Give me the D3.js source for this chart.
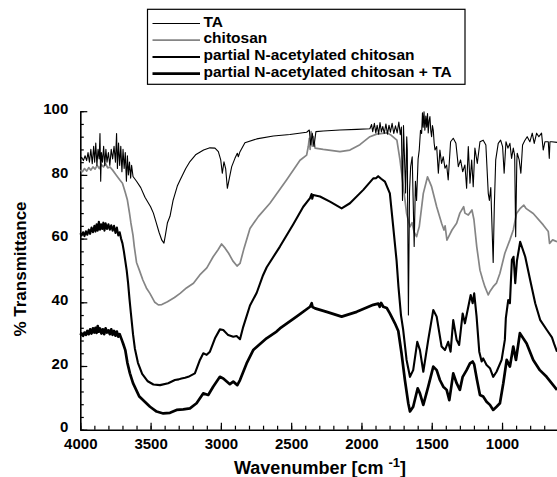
<!DOCTYPE html>
<html>
<head>
<meta charset="utf-8">
<script src="https://cdn.jsdelivr.net/npm/d3@7"></script>
<style>
  body { margin: 0; background: #fff; }
  svg { display: block; font-family: Arial, "Liberation Sans", sans-serif; }
</style>
</head>
<body>
<svg width="557" height="477"></svg>
<script>
// labels + ticks
const seriesNames = ['TA', 'chitosan', 'partial N-acetylated chitosan', 'partial N-acetylated chitosan + TA']
const xTicks = [4000, 3500, 3000, 2500, 2000, 1500, 1000]
const yTicks = [0, 20, 40, 60, 80, 100]

// spectra, [wavenumber, %T]
const taData = [
  [4000,85],[3990,85.5],[3978,84.5],[3966,86],[3955,84.5],[3945,87],[3935,84],[3925,88],[3915,83.5],[3905,89],
  [3898,84],[3890,90],[3882,83],[3874,88],[3866,85],[3860,93],[3855,78],[3850,87],[3842,84],[3834,89],
  [3826,83],[3818,88],[3810,84],[3800,87],[3790,83],[3780,88],[3770,85],[3760,89],[3750,84],[3742,93],
  [3736,82],[3728,90],[3720,83],[3712,89],[3704,81],[3696,88],[3688,82],[3680,87],[3672,78],[3665,86],
  [3658,80],[3650,84],[3642,79],[3635,83],[3625,79.5],[3600,78],[3570,76],[3540,73],[3520,71.5],[3500,70],
  [3480,68],[3460,65],[3440,62],[3420,59.5],[3405,58.6],[3395,61],[3380,65],[3362,67],[3340,72],[3310,76.5],
  [3290,78.4],[3250,82],[3220,84.2],[3180,86.3],[3123,87.8],[3078,88.5],[3042,88.4],[3018,87.3],[3001,84.7],[2990,80.5],
  [2978,84.1],[2966,82],[2954,75.8],[2940,78.9],[2923,82.6],[2900,85.2],[2883,86.8],[2876,85.7],[2864,87.3],[2829,90.1],
  [2745,91.3],[2627,92.2],[2509,92.7],[2390,93.4],[2371,94.1],[2361,89.4],[2350,93.1],[2338,88.9],[2324,93.6],[2272,93.8],
  [2153,94.1],[2034,94.3],[1940,94.5],[1928,95.8],[1920,93.6],[1908,96.2],[1898,93.2],[1888,95.6],[1878,92.8],[1868,96.4],
  [1858,93.5],[1848,95.2],[1838,93],[1826,96],[1815,92.8],[1804,95.6],[1794,93.4],[1782,96.2],[1770,93],[1758,95.4],
  [1746,93.2],[1734,96.6],[1724,92.6],[1716,95],[1708,72],[1701,95.5],[1686,74.3],[1678,92],[1674,87.8],[1666,36],
  [1658,75],[1650,82.6],[1639,85.7],[1625,57.5],[1616,78],[1608,72],[1597,85],[1589,87.8],[1580,94],[1572,93],
  [1566,99.5],[1561,95],[1555,99.8],[1549,94],[1542,98.5],[1536,95],[1530,99.3],[1525,93.2],[1519,97],[1513,98.3],
  [1507,94],[1501,92],[1495,95.5],[1489,94],[1483,90],[1477,87.8],[1465,88.9],[1453,80.5],[1442,87.8],[1430,83.6],
  [1418,85.7],[1406,82.1],[1394,83.1],[1383,78.4],[1366,90.4],[1347,91.5],[1328,89.9],[1311,82.6],[1295,84.7],[1280,81],
  [1264,83.1],[1252,75.8],[1240,88.9],[1228,77.4],[1216,84.7],[1205,76.3],[1193,88.4],[1176,83.6],[1157,90.4],[1134,90.9],
  [1115,89.4],[1098,74.2],[1090,72],[1080,76],[1070,62],[1063,52.5],[1055,70],[1045,84.7],[1027,89.9],[1010,90.9],
  [996,88.9],[985,80.5],[972,90.4],[958,88.4],[944,89.9],[932,85.2],[920,88.4],[910,86],[903,60.6],[895,84],
  [892,86.8],[878,84.7],[866,80.5],[854,89.4],[837,90.9],[821,92],[802,90.4],[785,93.1],[771,89.9],[754,93.1],
  [738,92],[719,93.1],[707,87.8],[695,90.4],[671,90.4],[664,85.2],[659,90.4],[647,90.4],[609,90.2]
]

const chitosanData = [
  [4000,81.5],[3985,81],[3970,82],[3955,81.2],[3940,82.3],[3925,81.5],[3910,82.5],[3895,81.8],[3880,83],[3865,82],
  [3850,83.2],[3835,82.5],[3820,83.5],[3805,82.2],[3789,82.5],[3770,81.5],[3745,80],[3720,78.5],[3700,77.4],[3680,74.5],
  [3665,72.1],[3650,68],[3640,64.9],[3625,61],[3616,57.5],[3600,52.5],[3580,50.1],[3555,47],[3530,44.5],[3505,42.8],
  [3470,40],[3445,39.2],[3420,39.3],[3380,40.2],[3330,41.5],[3290,42.8],[3245,44.5],[3195,46],[3150,48.6],[3100,50.8],
  [3055,54.3],[3020,56.5],[2995,58.3],[2970,57],[2945,55.4],[2915,53],[2885,51.4],[2864,52.2],[2835,57],[2793,63.2],
  [2734,66.9],[2651,71.1],[2533,78.4],[2437,84.6],[2390,86.2],[2378,89],[2371,91.5],[2365,88],[2358,93.6],[2350,89],
  [2342,92],[2330,88.4],[2272,88],[2153,87.3],[2082,87.8],[2011,89.5],[1940,92],[1892,92.8],[1821,93.2],[1790,92.5],
  [1748,90.9],[1726,84.7],[1702,76.3],[1679,67.9],[1655,63.7],[1640,65],[1625,62],[1608,60.6],[1597,62.5],[1589,63.7],
  [1560,74.2],[1530,79.4],[1501,76.3],[1465,70],[1430,64.8],[1413,62.7],[1405,64],[1392,59.5],[1375,61],[1356,62.7],
  [1323,64.8],[1300,68],[1273,70],[1264,68],[1240,67.4],[1214,69],[1200,66],[1180,57.5],[1170,54.3],[1157,50.1],
  [1137,47],[1122,44.9],[1098,42.3],[1085,43.5],[1063,44.9],[1040,46],[1015,49.1],[980,55.4],[944,59.6],[920,62.7],
  [897,67.9],[870,69.5],[845,70.5],[830,69.5],[778,67.9],[707,64.3],[671,62.2],[662,58.5],[640,59.6],[609,59]
]

const pnacData = [
  [4000,61.7],[3990,61],[3980,62],[3970,60.8],[3960,62.3],[3950,61.2],[3940,62.8],[3930,61.5],[3920,63.5],[3910,62],
  [3900,64],[3892,62.2],[3884,64.5],[3876,62.5],[3868,65.3],[3860,62.8],[3852,64.5],[3844,63],[3836,65],[3828,62.5],
  [3820,64.8],[3810,63],[3800,64.5],[3790,62.8],[3780,64.2],[3770,62.5],[3760,64],[3750,61.8],[3740,63.5],[3730,61],
  [3720,62],[3710,60],[3700,58.5],[3690,56],[3680,53],[3670,50],[3660,46],[3650,41],[3640,36.5],[3625,30],
  [3612,25.5],[3590,21],[3560,17.5],[3520,15.2],[3480,14.2],[3433,14],[3375,14.6],[3327,15.6],[3300,15.8],[3280,16.1],
  [3255,16.3],[3232,16.6],[3185,17.7],[3149,21.9],[3125,24],[3101,23.5],[3078,24.5],[3042,28.7],[3007,31.5],[2983,31.3],
  [2948,29.7],[2912,29.2],[2888,29.4],[2864,28.4],[2841,32.3],[2793,39],[2745,43],[2700,48.5],[2674,51],[2580,57.5],
  [2485,64.5],[2414,70],[2366,72.7],[2355,74],[2350,72.5],[2343,73.7],[2295,73.2],[2224,71.6],[2141,69.5],[2082,71.1],
  [1987,75.3],[1916,78.9],[1895,79],[1881,79.6],[1860,78.8],[1833,77.9],[1798,74.2],[1774,63.7],[1750,53],[1737,45],
  [1719,36],[1703,31.3],[1679,21.9],[1655,16.6],[1632,18.7],[1603,27.6],[1584,25],[1560,18.2],[1525,28.2],[1489,37.6],
  [1465,35.5],[1430,26.1],[1406,25],[1383,27.6],[1366,24.5],[1347,34.4],[1323,28.2],[1305,26.6],[1280,36.5],[1264,33.4],
  [1240,38.6],[1223,42.3],[1209,39.7],[1198,42.8],[1181,35.5],[1162,24.5],[1145,21.4],[1134,22.4],[1110,20.3],[1086,19.3],
  [1063,16.6],[1039,18.2],[1003,21.9],[980,28.2],[973,35],[956,40.7],[944,39.7],[930,53.3],[918,54.3],[906,46],
  [894,53],[871,59],[835,54.3],[800,47],[764,39.7],[729,34.5],[681,31.3],[645,29],[630,27],[609,24.5]
]

const pnacTaData = [
  [4000,29.7],[3990,30.2],[3980,29.5],[3970,30.5],[3960,29.8],[3950,31],[3940,30],[3930,31.5],[3920,30.2],[3910,31.8],
  [3900,30.5],[3892,32],[3884,30.4],[3876,32.5],[3868,30.8],[3860,31.8],[3850,30.2],[3840,31.5],[3830,30],[3820,31.8],
  [3810,30.5],[3800,31.2],[3790,30],[3780,31.5],[3770,29.8],[3760,31],[3750,29.5],[3740,30.8],[3730,29.2],[3720,30],
  [3705,28.2],[3695,27],[3680,25],[3665,21],[3647,17.7],[3625,14.6],[3580,10.4],[3504,7.2],[3457,5.7],[3410,5.1],
  [3362,5.3],[3315,6.2],[3268,6.4],[3220,6.7],[3173,8.3],[3126,11.4],[3090,10.9],[3055,13.5],[3007,16.6],[2983,16.1],
  [2936,14.3],[2912,15.1],[2883,14],[2864,15.6],[2817,20.8],[2770,25],[2675,28.7],[2604,30.8],[2580,31.8],[2462,35.5],
  [2366,38.6],[2354,39.7],[2348,38.5],[2330,38.1],[2247,37],[2141,35.5],[2034,37],[1916,39.2],[1880,39.6],[1870,38.6],
  [1860,39.8],[1845,38.6],[1820,38.2],[1798,36.5],[1762,33.4],[1738,31],[1715,24],[1691,15.6],[1667,8.3],[1655,5.7],
  [1632,7.2],[1600,13],[1584,11.4],[1560,7.8],[1525,13.5],[1489,19.8],[1465,18.7],[1442,15.6],[1418,13.5],[1394,12.5],
  [1375,9.3],[1347,17.7],[1323,14.6],[1300,12.5],[1280,16.6],[1252,18.7],[1228,20.8],[1209,21.4],[1198,20.5],[1178,15.6],
  [1157,10.9],[1134,10.4],[1110,8.8],[1086,7.8],[1063,6.2],[1039,7.2],[1015,8.3],[991,14.6],[967,21.9],[944,19.8],
  [920,26.1],[901,21.9],[873,30.3],[825,27.1],[778,21.9],[731,18.7],[683,16.6],[609,12.5]
]

const svg = d3.select('svg')

const x = d3.scaleLinear().domain([4000, 609]).range([80.3, 557])
const y = d3.scaleLinear().domain([0, 100]).range([429.7, 111.2])

// minor ticks first, then major with labels
svg.append('g')
  .attr('transform', 'translate(0,429.7)')
  .call(d3.axisBottom(x).tickValues(d3.range(4000, 600, -100)).tickSize(-4).tickSizeOuter(0).tickFormat(''))
  .call(g => g.select('.domain').remove())

svg.append('g')
  .attr('transform', 'translate(80.3,0)')
  .call(d3.axisLeft(y).tickValues(d3.range(0, 101, 4)).tickSize(-3.5).tickSizeOuter(0).tickFormat(''))
  .call(g => g.select('.domain').remove())

const xAxis = svg.append('g')
  .attr('transform', 'translate(0,429.7)')
  .call(d3.axisBottom(x).tickValues(xTicks).tickFormat(d3.format('d')).tickSize(-7).tickSizeOuter(0).tickPadding(9))

const yAxis = svg.append('g')
  .attr('transform', 'translate(80.3,0)')
  .call(d3.axisLeft(y).tickValues(yTicks).tickFormat(d3.format('d')).tickSize(-7).tickSizeOuter(0).tickPadding(12))

yAxis.selectAll('.tick text').attr('dy', '0.15em')

svg.selectAll('.domain').attr('stroke', '#000').attr('stroke-width', 1.6)
svg.selectAll('.tick line').attr('stroke', '#000').attr('stroke-width', 1.2)
svg.selectAll('.tick text')
  .attr('font-family', 'Arial, "Liberation Sans", sans-serif')
  .attr('font-size', 15)
  .attr('font-weight', 'bold')
  .attr('fill', '#000')

// curves
const line = d3.line()
  .x(d => x(d[0]))
  .y(d => y(d[1]))

const curves = [
  { data: chitosanData, color: '#858585', width: 1.7 },
  { data: taData, color: '#000', width: 1.1 },
  { data: pnacData, color: '#000', width: 2.1 },
  { data: pnacTaData, color: '#000', width: 2.7 }
]

svg.selectAll('.spectrum')
  .data(curves)
  .enter()
  .append('path')
  .attr('class', 'spectrum')
  .attr('d', c => line(c.data))
  .attr('fill', 'none')
  .attr('stroke', c => c.color)
  .attr('stroke-width', c => c.width)
  .attr('stroke-linejoin', 'round')

// axis titles
svg.append('text')
  .attr('x', 320)
  .attr('y', 474)
  .attr('text-anchor', 'middle')
  .attr('font-size', 18)
  .attr('font-weight', 'bold')
  .call(t => {
    t.append('tspan').text('Wavenumber [cm ')
    t.append('tspan').attr('font-size', 13).attr('dy', -7).text('-1')
    t.append('tspan').attr('dy', 7).text(']')
  })

svg.append('text')
  .attr('transform', 'translate(25.5,269) rotate(-90)')
  .attr('text-anchor', 'middle')
  .attr('font-size', 17)
  .attr('font-weight', 'bold')
  .text('% Transmittance')

// legend
const legendStyle = [
  { color: '#000', width: 1.1 },
  { color: '#858585', width: 1.7 },
  { color: '#000', width: 2 },
  { color: '#000', width: 2.6 }
]

const legend = svg.append('g')

legend.append('rect')
  .attr('x', 147.5)
  .attr('y', 9.3)
  .attr('width', 317.5)
  .attr('height', 75)
  .attr('fill', '#fff')
  .attr('stroke', '#000')
  .attr('stroke-width', 1.2)

const rows = legend.selectAll('.row')
  .data(seriesNames)
  .enter()
  .append('g')
  .attr('class', 'row')
  .attr('transform', (d, i) => `translate(0, ${26.5 + i * 16.7})`)

rows.append('line')
  .attr('x1', 152.5)
  .attr('x2', 200)
  .attr('y1', -3)
  .attr('y2', -3)
  .attr('stroke', (d, i) => legendStyle[i].color)
  .attr('stroke-width', (d, i) => legendStyle[i].width)

rows.append('text')
  .attr('x', 203.5)
  .attr('font-size', 15.5)
  .attr('font-weight', 'bold')
  .text(d => d)
</script>
</body>
</html>
